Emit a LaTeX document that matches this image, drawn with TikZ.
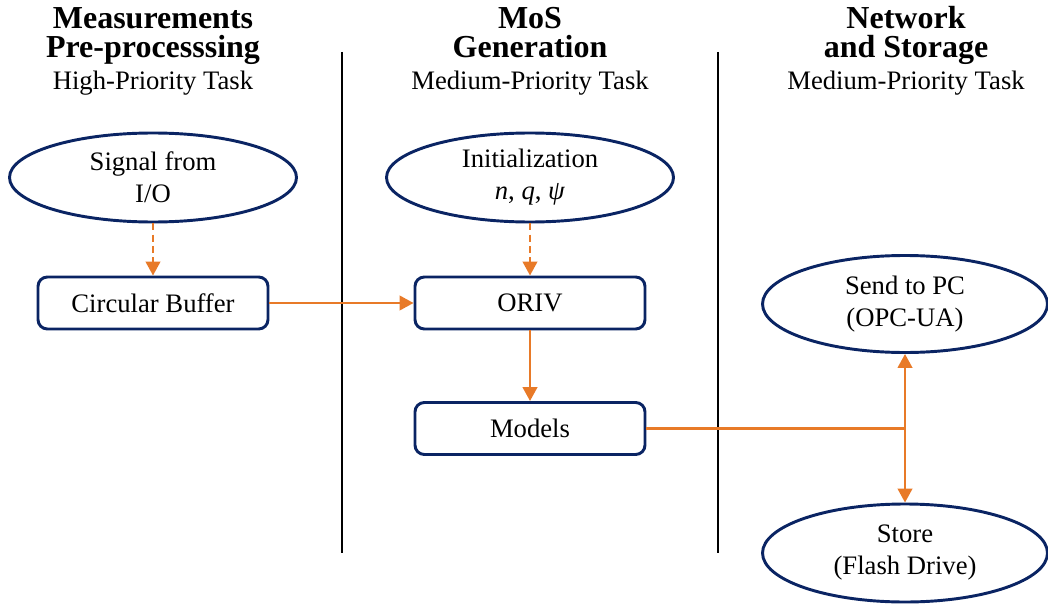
\documentclass[tikz,border=0pt]{standalone}
\usepackage{fontspec}
\setmainfont{Liberation Serif}
\usetikzlibrary{shapes.geometric,arrows.meta}
\definecolor{navy}{RGB}{10,36,99}
\definecolor{orng}{RGB}{232,122,40}
\begin{document}
\begin{tikzpicture}[x=0.375pt,y=-0.375pt,
  font=\fontsize{10}{12}\selectfont,
  ell/.style={ellipse,draw=navy,line width=1.1pt,minimum width=287*0.375pt,minimum height=89*0.375pt,inner sep=0pt,align=center},
  box/.style={rectangle,rounded corners=3.5pt,draw=navy,line width=1.1pt,minimum width=230*0.375pt,minimum height=52*0.375pt,inner sep=0pt},
  title/.style={align=center,font=\fontsize{12}{11}\selectfont\bfseries,anchor=base},
  sub/.style={anchor=base},
  flow/.style={draw=orng,line width=0.95pt,-{Triangle[length=5.2pt,width=5.4pt]}},
  dflow/.style={flow,dash pattern=on 2.6pt off 1.6pt},
  sep/.style={draw=black,line width=0.55pt}]
\useasboundingbox (0,0) rectangle (1048,606);
% headers
\node[title] (t1) at (153,58) {Measurements\\Pre-processsing};
\node[sub] (s1) at (153,90) {High-Priority Task};
\node[title] (t2) at (530,58) {MoS\\Generation};
\node[sub] (s2) at (530,90) {Medium-Priority Task};
\node[title] (t3) at (906,58) {Network\\and Storage};
\node[sub] (s3) at (906,90) {Medium-Priority Task};
% separators
\coordinate (l1a) at (342,52); \coordinate (l1b) at (342,553);
\coordinate (l2a) at (718,52); \coordinate (l2b) at (718,553);
\draw[sep] (l1a) -- (l1b);
\draw[sep] (l2a) -- (l2b);
% nodes
\node[ell] (sig) at (153,177.5) {Signal from\\I/O};
\node[box] (buf) at (153,303) {Circular Buffer};
\node[ell] (init) at (530,177.5) {Initialization\\\textit{n}, \textit{q}, \textit{ψ}};
\node[box] (oriv) at (530,303) {ORIV};
\node[box] (mod) at (530,428.5) {Models};
\node[ell,minimum width=285*0.375pt,minimum height=97*0.375pt] (pc) at (905,304) {Send to PC\\(OPC-UA)};
\node[ell,minimum width=285*0.375pt,minimum height=98*0.375pt] (st) at (905,553) {Store\\(Flash Drive)};
\coordinate (j) at (905,428.5);
% connectors
\draw[dflow] (sig) -- (buf);
\draw[dflow] (init) -- (oriv);
\draw[flow] (buf) -- (oriv);
\draw[flow] (oriv) -- (mod);
\draw[draw=orng,line width=0.95pt] (mod.east) -- (j);
\draw[flow] (j) -- (pc);
\draw[flow] (j) -- (st);
\end{tikzpicture}
\end{document}
